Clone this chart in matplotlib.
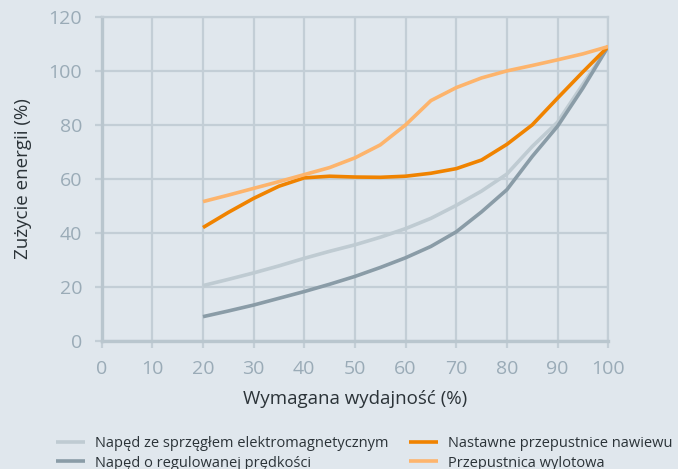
import matplotlib
matplotlib.use("Agg")
import matplotlib.pyplot as plt

x = [20, 25, 30, 35, 40, 45, 50, 55, 60, 65, 70, 75, 80, 85, 90, 95, 100]
sprzeglo = [20.5, 22.8, 25.2, 27.8, 30.6, 33.2, 35.6, 38.4, 41.6, 45.4, 50.2, 55.5, 61.8, 72.0, 81.0, 95.0, 109]
regulowana = [9.0, 11.1, 13.3, 15.8, 18.3, 21.0, 23.9, 27.2, 30.8, 35.0, 40.4, 47.8, 56.0, 68.3, 79.5, 93.6, 109]
nawiewu = [42.0, 47.6, 52.8, 57.3, 60.4, 61.0, 60.7, 60.6, 61.0, 62.1, 63.8, 67.0, 72.8, 80.0, 89.9, 99.6, 109]
wylotowa = [51.6, 54.0, 56.5, 59.0, 61.6, 64.2, 67.8, 72.6, 80.0, 89.0, 93.8, 97.4, 100.0, 102.0, 104.1, 106.3, 109]

labels = ["Napęd ze sprzęgłem elektromagnetycznym",
          "Napęd o regulowanej prędkości",
          "Nastawne przepustnice nawiewu",
          "Przepustnica wylotowa"]
colors = ["#bfcbd2", "#8a9ca7", "#f08300", "#fdb46c"]

xticks = [0, 10, 20, 30, 40, 50, 60, 70, 80, 90, 100]
yticks = [0, 20, 40, 60, 80, 100, 120]

plt.rcParams['font.family'] = ['Open Sans', 'DejaVu Sans']
bg = "#e0e7ed"
grid_c = "#c3ced6"
tick_c = "#9aabb7"

fig = plt.figure(figsize=(6.78, 4.69), dpi=100, facecolor=bg)
ax = fig.add_axes([0.150, 0.273, 0.747, 0.691], facecolor=bg)

series = [sprzeglo, regulowana, nawiewu, wylotowa]
handles = []
for s, c, l in zip(series, colors, labels):
    h, = ax.plot(x, s, color=c, lw=2.6, label=l, solid_capstyle='butt', zorder=3)
    handles.append(h)

ax.set_xlim(0, 100)
ax.set_ylim(0, 120)
ax.set_xticks(xticks)
ax.set_yticks(yticks)
ax.grid(True, color=grid_c, lw=1.6)
ax.set_axisbelow(True)
for side in ['top', 'right']:
    ax.spines[side].set_color(grid_c)
    ax.spines[side].set_linewidth(1.6)
for side in ['left', 'bottom']:
    ax.spines[side].set_color("#b9c6ce")
    ax.spines[side].set_linewidth(2.4)
ax.tick_params(axis='both', colors=grid_c, length=5, width=1.6,
               labelcolor=tick_c, labelsize=14)
ax.tick_params(axis='x', pad=9)
ax.tick_params(axis='y', pad=9)

ax.set_xlabel("Wymagana wydajność (%)", fontsize=13.5, color="#2b3338", labelpad=8.5)
ax.set_ylabel("Zużycie energii (%)", fontsize=13.5, color="#2b3338", labelpad=12)

leg = fig.legend(handles=handles, loc='upper left', bbox_to_anchor=(0.082, 0.070),
                 ncol=2, frameon=False, fontsize=10.5, handlelength=2.0,
                 handletextpad=0.7, columnspacing=1.4, labelspacing=0.3,
                 borderaxespad=0, borderpad=0)
for t in leg.get_texts():
    t.set_color("#2b3338")

fig.savefig("out.png", dpi=100, facecolor=bg)
